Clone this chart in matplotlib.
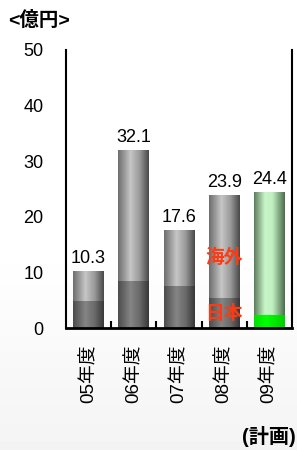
import numpy as np
import matplotlib.pyplot as plt
from matplotlib.colors import LinearSegmentedColormap

plt.rcParams['font.family'] = ['Liberation Sans', 'Noto Sans CJK JP', 'DejaVu Sans']

# data
years = ['05年度', '06年度', '07年度', '08年度', '09年度']
japan = [4.9, 8.5, 7.6, 5.4, 2.3]
total = [10.3, 32.1, 17.6, 23.9, 24.4]
overseas = [t - j for t, j in zip(total, japan)]

fig = plt.figure(figsize=(2.97, 4.5), dpi=100)

# faint background fade towards the bottom
bg = fig.add_axes([0, 0, 1, 1], zorder=-10)
grad = np.concatenate([np.ones(55), np.linspace(1, 0.955, 45)])[:, None]
bg.imshow(grad, aspect='auto', cmap='gray', vmin=0, vmax=1, extent=[0, 1, 0, 1])
bg.axis('off')

ax = fig.add_axes([0.222, 0.271, 0.761, 0.618])
ax.set_facecolor('none')

x = np.arange(len(years))
w = 0.68
bars_jp = ax.bar(x, japan, w, color='none', edgecolor='none')
bars_os = ax.bar(x, overseas, w, bottom=japan, color='none', edgecolor='none')

grey_top = LinearSegmentedColormap.from_list('gt', [(0, '#6e6e6e'), (0.4, '#c6c6c6'), (0.7, '#9a9a9a'), (1, '#4a4a4a')])
grey_bot = LinearSegmentedColormap.from_list('gb', [(0, '#4c4c4c'), (0.4, '#858585'), (0.7, '#6a6a6a'), (1, '#383838')])
green_top = LinearSegmentedColormap.from_list('nt', [(0, '#5d7d5d'), (0.35, '#c8f5c8'), (0.6, '#c0f0c0'), (1, '#4e6e4e')])
green_bot = LinearSegmentedColormap.from_list('nb', [(0, '#00e000'), (0.4, '#00ff00'), (1, '#00d000')])

ramp = np.linspace(0, 1, 64)[None, :]
for i, (rj, ro) in enumerate(zip(bars_jp, bars_os)):
    cb, ct = (green_bot, green_top) if i == 4 else (grey_bot, grey_top)
    for r, cm in ((rj, cb), (ro, ct)):
        x0, y0 = r.get_x(), r.get_y()
        im = ax.imshow(ramp, aspect='auto', cmap=cm,
                       extent=[x0, x0 + r.get_width(), y0, y0 + r.get_height()], zorder=2)
        im.set_clip_path(r)

for xi, t in zip(x, total):
    ax.text(xi, t + 0.7, f'{t:.1f}', ha='center', va='bottom', fontsize=13)

ax.text(3, 12.7, '海外', ha='center', va='center', color='#ff3a12',
        fontsize=13.5, fontweight='bold', family=['Noto Sans CJK JP'])
ax.text(3, 2.7, '日本', ha='center', va='center', color='#ff3a12',
        fontsize=13.5, fontweight='bold', family=['Noto Sans CJK JP'])

ax.set_xlim(-0.5, len(years) - 0.5)
ax.set_ylim(0, 50)
ax.set_yticks(range(0, 51, 10))
ax.tick_params(axis='y', length=0, labelsize=13, pad=16)

ax.set_xticks(x)
ax.set_xticklabels(years, rotation=90, fontsize=13.5, family=['Liberation Sans', 'Noto Sans CJK JP'])
ax.tick_params(axis='x', which='major', length=0, pad=12)
ax.set_xticks(x[:-1] + 0.5, minor=True)
ax.tick_params(axis='x', which='minor', direction='in', length=5, width=1.5)

ax.spines['top'].set_visible(False)
for s in ('left', 'right'):
    ax.spines[s].set_linewidth(1.5)
ax.spines['bottom'].set_linewidth(2)

fig.text(0.027, 0.955, '<億円>', fontsize=14, fontweight='bold', va='center',
         family=['Liberation Sans', 'Noto Sans CJK JP'])
fig.text(0.995, 0.03, '(計画)', fontsize=14.5, fontweight='bold', ha='right', va='center',
         family=['Liberation Sans', 'Noto Sans CJK JP'])

fig.savefig('out.png', dpi=100)
